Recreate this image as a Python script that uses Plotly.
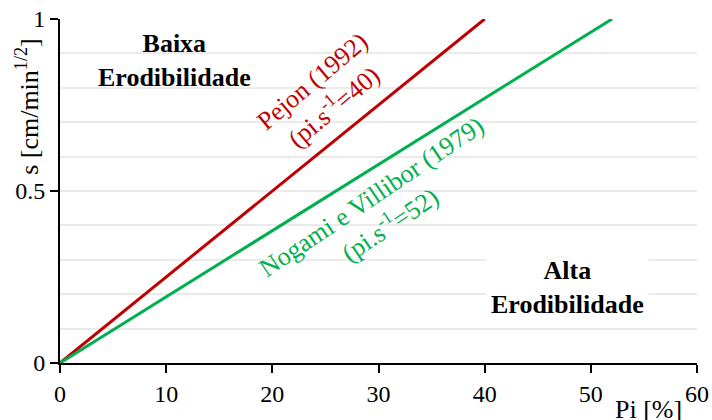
import plotly.graph_objects as go

pejon_slope = 40
nogami_slope = 52
pejon_x = [0, 40]
pejon_y = [0, 1]
nogami_x = [0, 52]
nogami_y = [0, 1]
x_ticks = [0, 10, 20, 30, 40, 50, 60]
y_ticks = [0, 0.5, 1]
y_tick_text = ["0", "0.5", "1"]

FONT = "Liberation Serif, Times New Roman, serif"
RED = "#c00000"
GREEN = "#00b050"
TS = 24
AS = 26

fig = go.Figure()
fig.add_trace(go.Scatter(x=pejon_x, y=pejon_y, mode="lines",
                         line=dict(color=RED, width=3), showlegend=False))
fig.add_trace(go.Scatter(x=nogami_x, y=nogami_y, mode="lines",
                         line=dict(color=GREEN, width=3), showlegend=False))

fig.update_layout(
    width=712, height=420,
    margin=dict(l=60, r=15, t=19, b=57),
    plot_bgcolor="white", paper_bgcolor="white",
    font=dict(family=FONT, size=TS, color="black"),
    xaxis=dict(range=[0, 60], tickvals=x_ticks, showgrid=False, zeroline=False,
               showline=True, linecolor="black", linewidth=2, automargin=False,
               ticks="outside", ticklen=8, tickwidth=1.5, tickcolor="black",
               tickfont=dict(family=FONT, size=TS)),
    yaxis=dict(range=[0, 1], tickvals=y_ticks, ticktext=y_tick_text, showgrid=False,
               zeroline=False, showline=True, linecolor="black", linewidth=2,
               automargin=False,
               ticks="outside", ticklen=8, tickwidth=1.5, tickcolor="black",
               tickfont=dict(family=FONT, size=TS),
               minor=dict(dtick=0.1, showgrid=True, gridcolor="#ebebeb", gridwidth=1.5,
                          ticks="")),
)

fig.add_annotation(xref="paper", yref="paper", x=-0.05, y=0.745, xanchor="center",
                   yanchor="middle", text="s [cm/min<sup>1/2</sup>]", textangle=-90,
                   showarrow=False, font=dict(family=FONT, size=AS))
fig.add_annotation(xref="x", yref="paper", x=55.4, y=-0.135, xanchor="center",
                   yanchor="middle", text="Pi [%]", showarrow=False,
                   font=dict(family=FONT, size=AS))

fig.add_annotation(x=10.8, y=0.88, text="<b>Baixa<br>Erodibilidade</b>", showarrow=False,
                   font=dict(family=FONT, size=AS))
fig.add_annotation(x=47.8, y=0.22, text="<b>Alta<br>Erodibilidade</b>", showarrow=False,
                   bgcolor="white", borderpad=4,
                   font=dict(family=FONT, size=AS))

fig.add_annotation(x=24.8, y=0.78, text="Pejon (1992)<br>(pi.s<sup>-1</sup>=%d)" % pejon_slope,
                   showarrow=False, textangle=-40, font=dict(family=FONT, size=AS, color=RED))
fig.add_annotation(x=30.2, y=0.44, text="Nogami e Villibor (1979)<br>(pi.s<sup>-1</sup>=%d)" % nogami_slope,
                   showarrow=False, textangle=-34, font=dict(family=FONT, size=AS, color=GREEN))

fig.write_html("out.html")
